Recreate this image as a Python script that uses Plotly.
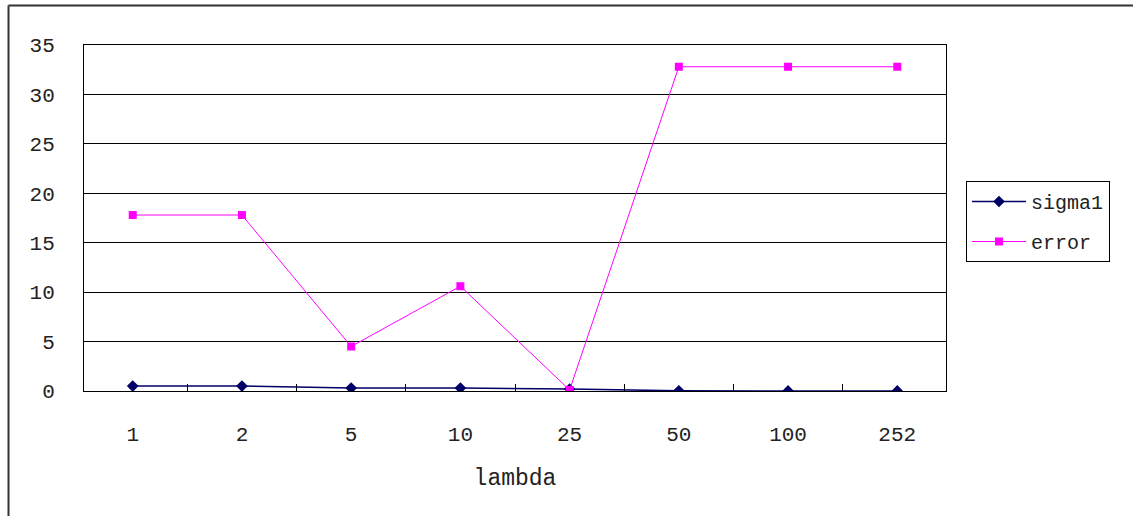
import plotly.graph_objects as go

# lambda categories and the two measured series
lambdas = ["1", "2", "5", "10", "25", "50", "100", "252"]
sigma1 = [0.5, 0.5, 0.3, 0.3, 0.2, 0.02, 0.01, 0.01]
error = [17.8, 17.8, 4.5, 10.6, 0.1, 32.8, 32.8, 32.8]
y_ticks = [0, 5, 10, 15, 20, 25, 30, 35]

W, H = 1133, 516
L, R, T, B = 84, 187, 45, 125
FONT = "Liberation Mono"

fig = go.Figure()
fig.add_trace(go.Scatter(
    x=lambdas, y=sigma1, name="sigma1", mode="lines+markers",
    line=dict(color="#000066", width=1.5),
    marker=dict(symbol="diamond", size=9, color="#000066"),
    legendgroup="a",
))
fig.add_trace(go.Scatter(
    x=lambdas, y=error, name="error", mode="lines+markers",
    line=dict(color="#FF00FF", width=1),
    marker=dict(symbol="square", size=8, color="#FF00FF"),
    legendgroup="b",
))

pw, ph = W - L - R, H - T - B


def px_x(p):
    return (p - L) / pw


def px_y(p):
    return (H - B - p) / ph


# outer frame (top and left edges visible)
fig.add_shape(type="line", xref="paper", yref="paper",
              x0=px_x(8.5), x1=px_x(W + 5), y0=px_y(5.5), y1=px_y(5.5),
              line=dict(color="#333333", width=2))
fig.add_shape(type="line", xref="paper", yref="paper",
              x0=px_x(8.5), x1=px_x(8.5), y0=px_y(5.5), y1=px_y(H + 5),
              line=dict(color="#333333", width=2))

fig.update_layout(
    width=W, height=H,
    margin=dict(l=L, r=R, t=T, b=B),
    paper_bgcolor="white", plot_bgcolor="white",
    font=dict(family=FONT, size=20, color="#222222"),
    showlegend=True,
    legend=dict(
        x=px_x(966), y=px_y(181), xanchor="left", yanchor="top",
        bordercolor="black", borderwidth=1, bgcolor="white",
        font=dict(family=FONT, size=20, color="#222222"),
        tracegroupgap=11, itemwidth=54,
    ),
    xaxis=dict(
        type="category", categoryorder="array", categoryarray=lambdas,
        showgrid=False, showline=True, linecolor="black", linewidth=1,
        mirror=True, ticks="inside", ticklen=7, tickcolor="black",
        tickson="boundaries", ticklabelstandoff=24,
        title=dict(text="lambda", font=dict(family=FONT, size=23), standoff=22),
        tickfont=dict(family=FONT, size=21),
    ),
    yaxis=dict(
        range=[0, 35], tickvals=y_ticks, showgrid=True, gridcolor="black",
        gridwidth=1, showline=True, linecolor="black", linewidth=1,
        mirror=True, ticks="", zeroline=False, ticklabelstandoff=24,
        tickfont=dict(family=FONT, size=21),
    ),
)

fig.write_html("out.html")
